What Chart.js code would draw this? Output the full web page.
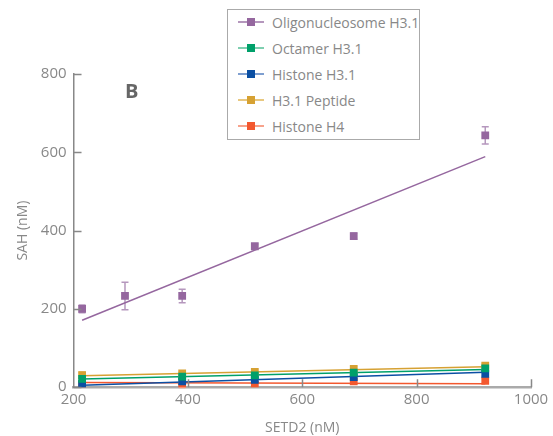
<!DOCTYPE html>
<html>
<head>
<meta charset="utf-8">
<script src="https://cdn.jsdelivr.net/npm/chart.js@4"></script>
<style>
  body { margin: 0; background: #fff; font-family: "Open Sans", sans-serif; }
  #wrap { position: relative; width: 553px; height: 436px; }
  #legend {
    position: absolute; left: 227px; top: 9px; width: 191px; height: 129px;
    border: 1.5px solid #aaa; background: #fff;
  }
  .item { position: absolute; left: 10px; height: 20px; display: flex; align-items: center; }
  .sw { position: relative; width: 26px; height: 20px; margin-right: 8px; }
  .sw .ln { position: absolute; left: 0; right: 0; top: 9px; height: 2px; }
  .sw .mk { position: absolute; left: 9px; top: 6px; width: 8px; height: 8px; }
  .lbl { color: #888; font-size: 14px; white-space: nowrap; }
  #tagB { position: absolute; left: 125px; top: 81px; font: bold 20px/20px "Open Sans", sans-serif; color: #666; }
</style>
</head>
<body>
<div id="wrap">
  <canvas id="myChart" width="553" height="436"></canvas>
  <div id="tagB">B</div>
  <div id="legend"></div>
</div>
<script>
// series names and colours
const names = ['Oligonucleosome H3.1', 'Octamer H3.1', 'Histone H3.1', 'H3.1 Peptide', 'Histone H4'];
const colors = ['#95679f', '#00a06a', '#0b4fa3', '#d6a133', '#f3582f'];
const lightColors = ['#b597bd', '#7fcfb0', '#7f9fd0', '#e8c880', '#f7a38c'];

// SETD2 (nM)
const oligoX = [215, 290, 390, 517, 690, 920];
const otherX = [215, 390, 517, 690, 920];

// SAH (nM) measured
const oligoY = [200, 233, 233, 360, 386, 643];
const oligoErr = [10, 35, 17, 6, 8, 22];
const octamerY = [21, 27, 30, 37, 48];
const octamerErr = [4, 4, 4, 5, 5];
const histoneY = [8, 15, 19, 26, 34];
const histoneErr = [6, 5, 5, 5, 6];
const peptideY = [31, 35, 39, 47, 55];
const peptideErr = [8, 4, 5, 6, 5];
const h4Y = [8, 3, 6, 15, 16];
const h4Err = [4, 4, 4, 6, 6];

// fitted lines
const fitX = [215, 920];
const oligoFit = [171, 589];
const octamerFit = [21, 45];
const histoneFit = [5, 38];
const peptideFit = [29, 52];
const h4Fit = [12, 9];

const yTicks = [0, 200, 400, 600, 800];
const xTicks = [200, 400, 600, 800, 1000];

const pointSets = [
  [oligoX, oligoY, oligoErr],
  [otherX, octamerY, octamerErr],
  [otherX, histoneY, histoneErr],
  [otherX, peptideY, peptideErr],
  [otherX, h4Y, h4Err]
];
const fits = [oligoFit, octamerFit, histoneFit, peptideFit, h4Fit];

const datasets = [];
pointSets.forEach((s, i) => {
  datasets.push({
    label: names[i],
    data: s[0].map((x, j) => ({ x: x, y: s[1][j] })),
    errors: s[2],
    errColor: lightColors[i],
    showLine: false,
    pointStyle: 'rect',
    pointRadius: 5.5,
    pointBackgroundColor: colors[i],
    pointBorderWidth: 0,
    order: 0
  });
});
fits.forEach((f, i) => {
  datasets.push({
    label: names[i] + ' fit',
    data: fitX.map((x, j) => ({ x: x, y: f[j] })),
    showLine: true,
    borderColor: colors[i],
    borderWidth: 1.5,
    pointRadius: 0,
    order: 1
  });
});

// error bars
const errorBars = {
  id: 'errorBars',
  beforeDatasetsDraw(chart) {
    const c = chart.ctx, xs = chart.scales.x, ys = chart.scales.y;
    chart.data.datasets.forEach(ds => {
      if (!ds.errors) return;
      c.save();
      c.strokeStyle = ds.errColor;
      c.lineWidth = 1.5;
      ds.data.forEach((p, j) => {
        const px = xs.getPixelForValue(p.x);
        const top = ys.getPixelForValue(p.y + ds.errors[j]);
        const bot = ys.getPixelForValue(p.y - ds.errors[j]);
        c.beginPath();
        c.moveTo(px, top); c.lineTo(px, bot);
        c.moveTo(px - 3.5, top); c.lineTo(px + 3.5, top);
        c.moveTo(px - 3.5, bot); c.lineTo(px + 3.5, bot);
        c.stroke();
      });
      c.restore();
    });
  }
};

// tick marks pointing into the plot
const innerTicks = {
  id: 'innerTicks',
  afterDraw(chart) {
    const c = chart.ctx, xs = chart.scales.x, ys = chart.scales.y;
    c.save();
    c.strokeStyle = '#888';
    c.lineWidth = 1.5;
    c.beginPath();
    yTicks.forEach(v => {
      const py = Math.round(ys.getPixelForValue(v)) + 0.5;
      c.moveTo(xs.left, py); c.lineTo(xs.left + 8, py);
    });
    xTicks.slice(1).forEach(v => {
      const px = Math.round(xs.getPixelForValue(v)) + 0.5;
      c.moveTo(px, ys.bottom); c.lineTo(px, ys.bottom - 8);
    });
    c.stroke();
    c.restore();
  }
};

const ctx = document.getElementById('myChart');

new Chart(ctx, {
  type: 'scatter',
  data: { datasets: datasets },
  plugins: [errorBars, innerTicks],
  options: {
    responsive: false,
    animation: false,
    layout: { padding: { top: 74, right: 22, left: 15, bottom: 0 } },
    plugins: { legend: { display: false }, tooltip: { enabled: false } },
    scales: {
      x: {
        type: 'linear', min: 200, max: 1000,
        afterBuildTicks: s => { s.ticks = xTicks.map(v => ({ value: v })); },
        grid: { display: false, drawTicks: false },
        border: { display: true, color: '#aaa', width: 2.5 },
        ticks: { color: '#888', font: { family: 'Open Sans', size: 15 }, padding: 4, callback: v => String(v) },
        title: { display: true, text: 'SETD2 (nM)', color: '#888', font: { family: 'Open Sans', size: 14 }, padding: { top: 6, bottom: 0 } }
      },
      y: {
        type: 'linear', min: 0, max: 800,
        afterBuildTicks: s => { s.ticks = yTicks.map(v => ({ value: v })); },
        grid: { display: false, drawTicks: false },
        border: { display: true, color: '#888', width: 1.5 },
        ticks: { color: '#888', font: { family: 'Open Sans', size: 15 }, padding: 7 },
        title: { display: true, text: 'SAH (nM)', color: '#888', font: { family: 'Open Sans', size: 14 }, padding: { top: 0, bottom: 2 } }
      }
    }
  }
});

// legend box
const legend = document.getElementById('legend');
names.forEach((n, i) => {
  const it = document.createElement('div');
  it.className = 'item';
  it.style.top = (2 + i * 26) + 'px';
  it.innerHTML = '<div class="sw"><div class="ln" style="background:' + lightColors[i] + '"></div>' +
    '<div class="mk" style="background:' + colors[i] + '"></div></div><span class="lbl">' + n + '</span>';
  legend.appendChild(it);
});
</script>
</body>
</html>
